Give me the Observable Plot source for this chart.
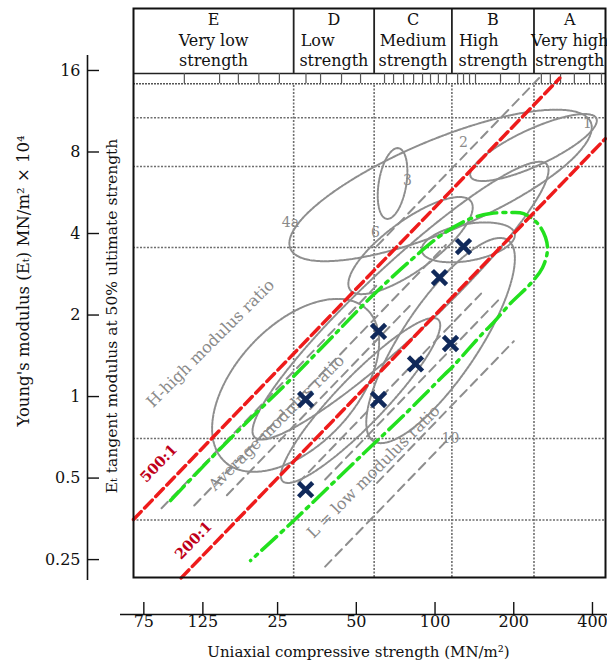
<!DOCTYPE html>
<html><head><meta charset="utf-8">
<script src="https://cdn.jsdelivr.net/npm/d3@7"></script>
<script src="https://cdn.jsdelivr.net/npm/@observablehq/plot@0.6"></script>
<style>
body{margin:0;background:#fff;}
#chart{width:607px;height:666px;}
</style></head><body><div id="chart"></div>
<script>
// ---------- data ----------
const yTicks = [0.25, 0.5, 1, 2, 4, 8, 16];
const yTickLabels = ["0.25", "0.5", "1", "2", "4", "8", "16"];
const xTicks = [7.7, 12.95, 25, 50, 100, 200, 400];
const xTickLabels = ["75", "125", "25", "50", "100", "200", "400"];

const classLetters = ["E", "D", "C", "B", "A"];
const classLine1 = ["Very low", "Low", "Medium", "High", "Very high"];
const classLine2 = ["strength", "strength", "strength", "strength", "strength"];
const classBounds = [28.8, 58.5, 116, 239];

const gridY = [10.7, 7.07, 3.55, 0.70, 0.35];
const bandTicks = [11.0, 15.0, 17.7, 21.2, 25.4, 32.1, 36.5, 43.9, 51.9, 64.1, 69.4, 75.8, 82.8, 89.6, 96.1, 103, 110.6, 122, 128.5, 135.5, 142.8, 178, 210, 255, 276, 302, 341, 390, 433];

const ratioValues = [500, 200];
const ratioLabels = ["500:1", "200:1"];
const ratioStart = [7.03, 10.7];
const ratioEnd = [300, 448];
const ratioLabelX = [8.79, 11.93];
const ratioLabelY = [0.566, 0.294];

const markerStrength = [128.5, 104, 60.8, 114.6, 84.2, 32.0, 60.8, 32.0];
const markerModulus = [3.58, 2.75, 1.74, 1.57, 1.32, 0.975, 0.975, 0.453];

const envelopeStrength = [9.74, 13.86, 19.7, 28.0, 39.9, 56.7, 80.6, 107.8, 136.7, 163, 194.4, 218, 246.6, 264.5, 269, 257.6, 231.8, 194.4, 167.4, 152, 117.7, 107.8, 75.8, 53.3, 28.8, 19.7];
const envelopeModulus = [0.413, 0.590, 0.829, 1.155, 1.638, 2.32, 3.18, 4.0, 4.54, 4.74, 4.78, 4.74, 4.36, 3.87, 3.46, 2.99, 2.61, 2.21, 1.876, 1.709, 1.30, 1.196, 0.851, 0.616, 0.348, 0.248];

// rock-type fields (gray outlines): centre, half-axes (in doublings), tilt (deg)
const fieldCx = [238, 105, 68.8, 134, 73.8, 29.3, 105, 80.6, 51.9];
const fieldCy = [8.31, 6.02, 6.12, 3.71, 2.26, 1.10, 1.61, 3.61, 0.967];
const fieldA = [0.875, 2.06, 0.44, 0.6, 2.5, 1.3, 1.5, 0.94, 1.4];
const fieldB = [0.225, 0.56, 0.175, 0.225, 0.44, 0.75, 0.475, 0.31, 0.3];
const fieldAngle = [24, 22, 80, 10, 42, 45, 55, 35, 45];

// gray dashed modulus-ratio lines
const grayRatios = [600, 430, 330, 270, 160, 130, 80, 62];
const grayStart = [60, 9, 12, 16, 30, 38, 60, 38];
const grayEnd = [250, 60, 110, 80, 150, 180, 200, 115];

const zoneLabels = ["H-high modulus ratio", "Average modulus ratio", "L = low modulus ratio"];
const zoneLabelX = [13.86, 24.8, 58.2];
const zoneLabelY = [1.57, 0.80, 0.528];

const fieldNumbers = ["1", "2", "3", "4a", "6", "10"];
const fieldNumberX = [383, 128.5, 78.5, 28.0, 59.2, 114.6];
const fieldNumberY = [10.2, 8.67, 6.28, 4.4, 4.03, 0.70];

// header geometry (y values on the modulus scale)
const headerLetterY = 24.5, headerLine1Y = 20.5, headerLine2Y = 17.3;
const headerBottom = 15.6, bandBottom = 14.3;

const xDomain = [7.03, 448.6];
const yDomain = [0.2147, 27.1];

// ---------- derived tables ----------
const colEdges = [xDomain[0], ...classBounds, xDomain[1]];
const colMid = classLetters.map((d, i) => Math.sqrt(colEdges[i] * colEdges[i + 1]));

const markers = markerStrength.map((x, i) => ({x, y: markerModulus[i]}));
const envelope = envelopeStrength.map((x, i) => ({x, y: envelopeModulus[i]}));

const fieldPts = [];
fieldCx.forEach((cx, k) => {
  const a = fieldA[k], b = fieldB[k], phi = fieldAngle[k] * Math.PI / 180;
  for (let j = 0; j <= 90; j++) {
    const t = 2 * Math.PI * j / 90;
    const u = a * Math.cos(t), v = b * Math.sin(t);
    const du = u * Math.cos(phi) - v * Math.sin(phi);
    const dv = u * Math.sin(phi) + v * Math.cos(phi);
    fieldPts.push({x: cx * Math.pow(2, du), y: fieldCy[k] * Math.pow(2, dv), id: k});
  }
});

const grayPts = [];
grayRatios.forEach((r, k) => {
  [grayStart[k], grayEnd[k]].forEach(s => grayPts.push({x: s, y: r * s / 1e4, id: k}));
});

const redPts = [];
ratioValues.forEach((r, k) => {
  [ratioStart[k], ratioEnd[k]].forEach(s => redPts.push({x: s, y: r * s / 1e4, id: k}));
});

const serif = "DejaVu Serif";

const chart = Plot.plot({
  width: 607,
  height: 666,
  marginLeft: 133,
  marginRight: 2,
  marginTop: 8,
  marginBottom: 89,
  style: {fontFamily: serif, background: "#fff", color: "#111"},
  x: {type: "log", domain: xDomain},
  y: {type: "log", domain: yDomain},
  marks: [
    // grid
    Plot.ruleY(gridY, {stroke: "#6e6e6e", strokeWidth: 1.6, strokeDasharray: "2,1.5"}),
    Plot.ruleX(classBounds, {y1: yDomain[0], y2: bandBottom, stroke: "#6e6e6e", strokeWidth: 1.6, strokeDasharray: "2,1.5"}),
    // header band
    Plot.ruleY([bandBottom], {stroke: "#555", strokeWidth: 1.5, strokeDasharray: "2,1"}),
    Plot.ruleY([headerBottom], {stroke: "#222", strokeWidth: 1.5}),
    Plot.ruleX(bandTicks, {y1: bandBottom, y2: headerBottom, stroke: "#555", strokeWidth: 1.2}),
    Plot.ruleX(classBounds, {y1: headerBottom, y2: yDomain[1], stroke: "#222", strokeWidth: 1.8}),
    Plot.text(classLetters, {x: (d, i) => colMid[i], y: () => headerLetterY, text: d => d, fontSize: 16, fill: "#111"}),
    Plot.text(classLine1, {filter: (d, i) => i !== 1 && i !== 3, x: (d, i) => colMid[i], y: () => headerLine1Y, text: d => d, fontSize: 16, fill: "#111"}),
    Plot.text(classLine1, {filter: (d, i) => i === 1 || i === 3, x: (d, i) => colEdges[i], y: () => headerLine1Y, text: d => d, dx: 7, textAnchor: "start", fontSize: 16, fill: "#111"}),
    Plot.text(classLine2, {x: (d, i) => colMid[i], y: () => headerLine2Y, text: d => d, fontSize: 16, fill: "#111"}),
    // rock fields
    Plot.line(fieldPts, {x: "x", y: "y", z: "id", stroke: "#8e8e8e", strokeWidth: 2, strokeDasharray: "2.5,1.2", curve: "linear", clip: true}),
    Plot.line(grayPts, {x: "x", y: "y", z: "id", stroke: "#8e8e8e", strokeWidth: 2, strokeDasharray: "9,6", clip: true}),
    Plot.text(zoneLabels, {x: (d, i) => zoneLabelX[i], y: (d, i) => zoneLabelY[i], text: d => d, rotate: -45, fontSize: 16, fill: "#8a8a8a"}),
    Plot.text(fieldNumbers, {x: (d, i) => fieldNumberX[i], y: (d, i) => fieldNumberY[i], text: d => d, fontSize: 14, fill: "#8a8a8a"}),
    // envelope
    Plot.line(envelope, {x: "x", y: "y", curve: "catmull-rom", stroke: "#22e01e", strokeWidth: 3.5, strokeDasharray: "20,6,3,6"}),
    // modulus ratio lines
    Plot.line(redPts, {x: "x", y: "y", z: "id", stroke: "#ee1b1b", strokeWidth: 3.5, strokeDasharray: "11,5"}),
    Plot.text(ratioLabels, {x: (d, i) => ratioLabelX[i], y: (d, i) => ratioLabelY[i], text: d => d, rotate: -46, fontSize: 14.5, fontWeight: "bold", fill: "#c0001a"}),
    // markers
    Plot.dot(markers, {x: "x", y: "y", symbol: "times", r: 6.5, stroke: "#10295a", strokeWidth: 4.5}),
    // frame
    Plot.frame({stroke: "#111", strokeWidth: 2}),
    // left axis
    Plot.ruleX([xDomain[0]], {dx: -46, insetTop: 47, insetBottom: -3, stroke: "#111", strokeWidth: 1.6}),
    Plot.axisY(yTicks, {anchor: "left", tickSize: -12, tickPadding: 19, dx: -46, strokeWidth: 1.4, tickFormat: () => "", label: null}),
    Plot.text(yTicks, {y: d => d, frameAnchor: "left", dx: -53, textAnchor: "end", text: (d, i) => yTickLabels[i], fontSize: 16, fill: "#111"}),
    // bottom axis
    Plot.ruleY([yDomain[0]], {dy: 37, insetLeft: -13, insetRight: -2, stroke: "#111", strokeWidth: 1.6}),
    Plot.axisX(xTicks, {anchor: "bottom", tickSize: -12, tickPadding: 13, dy: 37, strokeWidth: 1.4, tickFormat: () => "", label: null}),
    Plot.text(xTicks, {x: d => d, frameAnchor: "bottom", dy: 38, lineAnchor: "top", textAnchor: "middle", text: (d, i) => xTickLabels[i], fontSize: 16, fill: "#111"}),
    // axis titles
    Plot.text(["Young's modulus (Eₜ) MN/m² × 10⁴"], {frameAnchor: "left", dx: -110, dy: -12, rotate: -90, textAnchor: "middle", lineAnchor: "middle", fontSize: 16.5, fill: "#111"}),
    Plot.text(["Eₜ tangent modulus at 50% ultimate strength"], {frameAnchor: "left", dx: -21, dy: 23, rotate: -90, textAnchor: "middle", lineAnchor: "middle", fontSize: 15.5, fill: "#111"}),
    Plot.text(["Uniaxial compressive strength (MN/m²)"], {frameAnchor: "bottom", dx: -11, dy: 75, textAnchor: "middle", lineAnchor: "middle", fontSize: 15, fill: "#111"})
  ]
});
document.getElementById("chart").appendChild(chart);
</script>
</body></html>
